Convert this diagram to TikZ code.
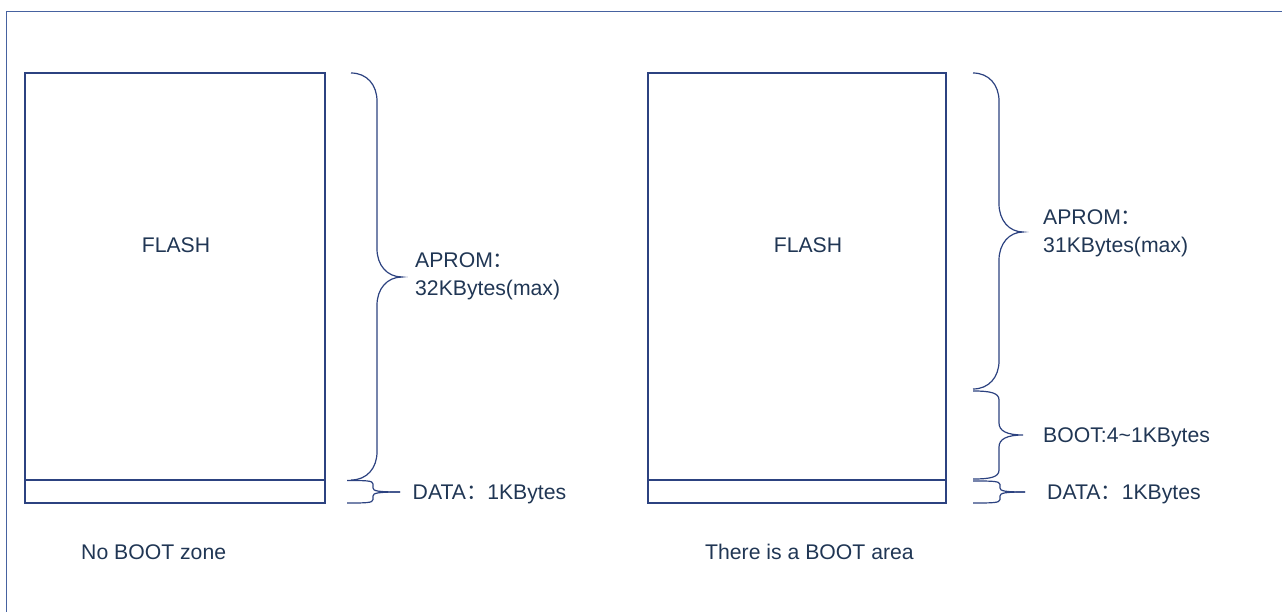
\documentclass[tikz,border=0pt]{standalone}
\usepackage{fontspec}
\setmainfont{Liberation Sans}
\newfontfamily\cjkf{Noto Sans CJK SC}
\newcommand\fwcolon{{\cjkf ：}}
\definecolor{txt}{RGB}{32,54,84}
\definecolor{ln}{RGB}{44,66,128}
\definecolor{frm}{RGB}{70,98,160}
\begin{document}
\begin{tikzpicture}[x=1pt,y=-1pt,
  lbl/.style={anchor=west,inner sep=0pt,text=txt,text height=15pt,text depth=0pt,font=\fontsize{21.2}{25}\selectfont},
  ctext/.style={anchor=center,inner sep=0pt,text=txt,text height=15pt,text depth=0pt,font=\fontsize{21.2}{25}\selectfont},
  box/.style={draw=ln,line width=1.3pt},
  brc/.style={draw=ln,line width=1.2pt},
  frame/.style={draw=frm,line width=1.5pt}]
\useasboundingbox (0,0) rectangle (1282,612);
% outer frame
\draw[frame] (6.5,612) -- (6.5,11.5) -- (1282,11.5);
% left memory
\draw[box] (25,73) rectangle (325,503);
\draw[box] (25,480) -- (325,480);
\node[ctext] (flashL) at (176,245) {FLASH};
% right memory
\draw[box] (648,73) rectangle (946,503);
\draw[box] (648,480) -- (946,480);
\node[ctext] (flashR) at (808,245) {FLASH};
% left APROM brace
\draw[brc] (351,73) .. controls (367,73) and (377,85) .. (377,101) -- (377,249)
  .. controls (377,265) and (387,277) .. (402,277)
  .. controls (387,277) and (377,289) .. (377,305) -- (377,452)
  .. controls (377,468) and (367,480) .. (351,480);
% left DATA brace
\draw[brc] (347,480.5) .. controls (366,480.5) and (373,480.5) .. (373,484) -- (373,488)
  .. controls (373,491) and (378,492) .. (400,492);
\draw[brc] (347,503) .. controls (366,503) and (373,503) .. (373,499.5) -- (373,496)
  .. controls (373,493) and (378,492) .. (400,492);
% right APROM brace
\draw[brc] (973,73) .. controls (989,73) and (999,85) .. (999,101) -- (999,204)
  .. controls (999,220) and (1009,232) .. (1023,232)
  .. controls (1009,232) and (999,244) .. (999,260) -- (999,361)
  .. controls (999,377) and (989,389) .. (973,389);
% right BOOT brace
\draw[brc] (973,391) .. controls (991,391) and (999,393) .. (999,400) -- (999,423)
  .. controls (999,431) and (1007,435) .. (1023,435)
  .. controls (1007,435) and (999,439) .. (999,447) -- (999,470)
  .. controls (999,477) and (991,479) .. (973,479);
% right DATA brace
\draw[brc] (973,481) .. controls (992,481) and (1000,481) .. (1000,484.5) -- (1000,488)
  .. controls (1000,491) and (1005,492) .. (1025,492);
\draw[brc] (973,503) .. controls (992,503) and (1000,503) .. (1000,499.5) -- (1000,496)
  .. controls (1000,493) and (1005,492) .. (1025,492);
% labels
\node[lbl] (aproml1) at (415,260) {APROM\fwcolon};
\node[lbl] (aproml2) at (415,288) {32KBytes(max)};
\node[lbl] (datal) at (412.5,492) {DATA\fwcolon 1KBytes};
\node[lbl] (apromr1) at (1043,217) {APROM\fwcolon};
\node[lbl] (apromr2) at (1043,245) {31KBytes(max)};
\node[lbl] (bootr) at (1043,435) {BOOT:4\textasciitilde 1KBytes};
\node[lbl] (datar) at (1047,492) {DATA\fwcolon 1KBytes};
\node[lbl] (noboot) at (81,552) {No BOOT zone};
\node[lbl] (isboot) at (705,552) {There is a BOOT area};
\end{tikzpicture}
\end{document}
